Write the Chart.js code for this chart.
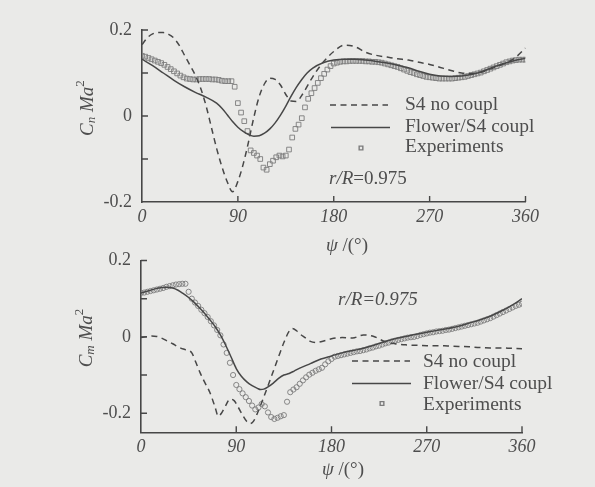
<!DOCTYPE html>
<html>
<head>
<meta charset="utf-8">
<script src="https://cdn.jsdelivr.net/npm/chart.js@4.4.1/dist/chart.umd.min.js"></script>
<style>
  html, body { margin: 0; padding: 0; background: #eaeae8; }
  #wrap { position: relative; width: 595px; height: 487px; overflow: hidden; }
  #wrap canvas { position: absolute; left: 0; top: 0; }
</style>
</head>
<body>
<div id="wrap">
  <canvas id="cn" width="595" height="487"></canvas>
  <canvas id="cm" width="595" height="487"></canvas>
</div>
<script>
// ---- azimuth axis ----
const X_TICKS = [0, 90, 180, 270, 360];
const X_MARKS = [90, 180, 270, 360];

// ---- normal force Cn*Ma^2, r/R = 0.975 ----
const CN_Y_TICKS = [-0.2, -0.1, 0, 0.1, 0.2];
const CN_Y_LABELED = [-0.2, 0, 0.2];

const CN_S4_PSI = [0,5,10,15,20,25,30,35,40,45,50,55,60,65,70,75,80,85,90,95,100,105,110,115,120,125,130,135,140,145,150,
                   160,170,180,190,200,210,220,230,240,250,260,270,280,290,300,310,320,330,340,350,360];
const CN_S4 = [0.166,0.182,0.191,0.194,0.194,0.190,0.181,0.164,0.141,0.118,
               0.095,0.065,0.025,-0.025,-0.075,-0.118,-0.153,-0.176,-0.152,-0.112,
               -0.060,-0.003,0.045,0.075,0.088,0.085,0.072,0.050,0.035,0.034,
               0.048,
               0.090,0.125,0.150,0.165,0.161,0.148,0.141,0.137,0.133,0.130,
               0.125,0.120,0.113,0.106,0.100,0.099,0.103,0.112,0.122,0.135,0.158];

const CN_CPL_PSI = [0,10,20,30,40,50,60,70,75,80,85,90,95,100,105,110,115,120,125,130,135,140,145,150,155,160,
                    170,180,190,200,210,220,230,240,250,260,270,280,290,300,310,320,330,340,350,360];
const CN_CPL = [0.132,0.117,0.100,0.083,0.068,0.055,0.044,0.030,
                0.018,0.003,-0.013,-0.026,-0.036,-0.043,-0.047,-0.046,-0.040,-0.030,
                -0.016,0.002,0.023,0.046,0.067,0.085,0.100,0.111,
                0.124,0.130,0.132,0.132,0.130,0.127,0.123,0.118,0.112,0.104,
                0.097,0.093,0.092,0.093,0.097,0.104,0.114,0.122,0.129,0.134];

// measured azimuths (every 3 deg), shared by both sections
const PSI_EXP = [0,3,6,9,12,15,18,21,24,27,30,33,36,39,42,45,48,51,54,57,
                 60,63,66,69,72,75,78,81,84,87,90,93,96,99,102,105,108,111,114,117,
                 120,123,126,129,132,135,138,141,144,147,150,153,156,159,162,165,168,171,174,177,
                 180,183,186,189,192,195,198,201,204,207,210,213,216,219,222,225,228,231,234,237,
                 240,243,246,249,252,255,258,261,264,267,270,273,276,279,282,285,288,291,294,297,
                 300,303,306,309,312,315,318,321,324,327,330,333,336,339,342,345,348,351,354,357,360];

const CN_EXP = [0.140,0.138,0.135,0.132,0.129,0.126,0.123,0.119,0.114,0.109,
                0.104,0.099,0.094,0.090,0.087,0.086,0.085,0.085,0.086,0.086,
                0.086,0.086,0.085,0.085,0.084,0.082,0.081,0.081,0.081,0.068,
                0.030,0.008,-0.012,-0.035,-0.080,-0.086,-0.092,-0.100,-0.120,-0.125,
                -0.112,-0.104,-0.096,-0.092,-0.094,-0.092,-0.078,-0.050,-0.030,-0.020,
                -0.005,0.020,0.040,0.053,0.065,0.077,0.088,0.098,0.108,0.116,
                0.122,0.124,0.126,0.127,0.127,0.128,0.128,0.128,0.128,0.128,
                0.127,0.127,0.126,0.126,0.125,0.124,0.122,0.120,0.118,0.116,
                0.114,0.111,0.108,0.105,0.102,0.100,0.097,0.095,0.093,0.091,
                0.090,0.089,0.088,0.087,0.087,0.087,0.087,0.087,0.088,0.089,
                0.090,0.091,0.093,0.095,0.097,0.099,0.101,0.104,0.107,0.110,
                0.113,0.116,0.119,0.122,0.125,0.127,0.129,0.130,0.131,0.131,0.131];

// ---- pitching moment Cm*Ma^2, r/R = 0.975 ----
const CM_Y_TICKS = [-0.2, -0.1, 0, 0.1, 0.2];
const CM_Y_LABELED = [-0.2, 0, 0.2];

const CM_S4_PSI = [0,5,10,15,20,25,30,35,40,45,48,52,56,60,65,70,73,76,80,84,88,92,96,100,103,106,110,
                   115,120,125,130,135,140,143,147,150,155,160,165,170,
                   180,190,200,210,220,230,240,250,260,270,280,290,300,310,320,330,340,350,360];
const CM_S4 = [-0.002,0.000,0.002,0.001,-0.004,-0.011,-0.018,-0.026,-0.032,-0.036,
               -0.042,-0.068,-0.095,-0.118,-0.145,-0.184,-0.208,-0.200,-0.180,-0.163,-0.167,-0.185,-0.205,-0.222,-0.227,-0.222,-0.200,
               -0.165,-0.128,-0.090,-0.052,-0.015,0.015,0.022,0.016,0.008,-0.002,-0.012,-0.015,-0.013,
               -0.005,-0.002,-0.003,0.005,0.001,-0.012,-0.018,-0.021,-0.022,-0.023,-0.023,-0.024,-0.025,-0.026,-0.028,-0.029,-0.029,-0.030,-0.031];

const CM_CPL_PSI = [0,5,10,15,20,25,30,35,40,45,50,55,60,65,70,75,80,85,90,95,100,105,110,113,116,
                    120,125,130,135,140,145,150,160,170,180,190,200,210,220,230,240,250,
                    260,270,280,290,300,310,320,330,340,350,360];
const CM_CPL = [0.115,0.119,0.123,0.127,0.129,0.130,0.128,0.122,0.113,0.103,
                0.091,0.077,0.062,0.045,0.027,0.005,-0.022,-0.052,-0.083,-0.104,
                -0.118,-0.128,-0.135,-0.138,-0.137,
                -0.131,-0.121,-0.109,-0.100,-0.096,-0.089,-0.082,
                -0.070,-0.058,-0.050,-0.042,-0.036,-0.030,-0.022,-0.013,-0.005,0.001,
                0.007,0.012,0.017,0.022,0.028,0.036,0.044,0.054,0.067,0.082,0.100];

const CM_EXP = [0.115,0.116,0.118,0.120,0.122,0.124,0.126,0.128,0.131,0.133,
                0.135,0.137,0.138,0.139,0.139,0.118,0.100,0.090,0.081,0.071,
                0.062,0.052,0.041,0.030,0.018,0.004,-0.020,-0.042,-0.068,-0.100,
                -0.126,-0.137,-0.148,-0.158,-0.168,-0.180,-0.190,-0.185,-0.176,-0.182,
                -0.198,-0.210,-0.215,-0.212,-0.208,-0.205,-0.170,-0.145,-0.138,-0.132,
                -0.123,-0.114,-0.106,-0.099,-0.094,-0.089,-0.085,-0.081,-0.072,-0.064,
                -0.058,-0.052,-0.050,-0.048,-0.046,-0.044,-0.042,-0.040,-0.038,-0.037,
                -0.035,-0.033,-0.030,-0.028,-0.025,-0.023,-0.020,-0.017,-0.015,-0.012,
                -0.010,-0.008,-0.006,-0.004,-0.002,-0.001,0.000,0.002,0.005,0.007,
                0.009,0.011,0.012,0.014,0.015,0.016,0.018,0.019,0.021,0.023,
                0.025,0.027,0.029,0.031,0.033,0.035,0.037,0.040,0.043,0.046,
                0.049,0.053,0.057,0.061,0.065,0.069,0.073,0.077,0.081,0.084,0.087];

// ---- styling ----
const INK = '#474747';
const TXT = '#4e4e4e';
const MARK = '#7c7c7c';
const SERIF = '"Liberation Serif", "Times New Roman", serif';

const X_TITLE = [{ t: '\u03c8', it: true, s: 19 }, { t: ' /(\u00b0)', s: 19 }];

function pts(xs, ys) { return xs.map((x, i) => ({ x: x, y: ys[i] })); }

function fontOf(p) { return (p.it ? 'italic ' : '') + p.s + 'px ' + SERIF; }

// draws a run of text pieces (sub/superscripts via dy), left or centre aligned
function drawRich(ctx, parts, x, y, align) {
  let w = 0;
  parts.forEach(p => { ctx.font = fontOf(p); w += ctx.measureText(p.t).width; });
  let cx = align === 'center' ? x - w / 2 : x;
  parts.forEach(p => {
    ctx.font = fontOf(p);
    ctx.fillText(p.t, cx, y + (p.dy || 0));
    cx += ctx.measureText(p.t).width;
  });
}

const decor = {
  id: 'decor',
  afterDraw(chart, args, o) {
    const { ctx, chartArea: a, scales: { x, y } } = chart;
    ctx.save();
    // tick marks pointing into the plot
    ctx.strokeStyle = INK;
    ctx.lineWidth = 1.4;
    ctx.beginPath();
    o.yMarks.forEach(v => { const py = y.getPixelForValue(v); ctx.moveTo(a.left, py); ctx.lineTo(a.left + 6, py); });
    X_MARKS.forEach(v => { const px = x.getPixelForValue(v); ctx.moveTo(px, a.bottom); ctx.lineTo(px, a.bottom - 6); });
    ctx.stroke();

    // axis titles and section note
    ctx.fillStyle = TXT;
    ctx.textBaseline = 'middle';
    ctx.textAlign = 'left';
    ctx.save();
    ctx.translate(o.yTitleAt[0], o.yTitleAt[1]);
    ctx.rotate(-Math.PI / 2);
    drawRich(ctx, o.yTitle, 0, 0, 'center');
    ctx.restore();
    drawRich(ctx, X_TITLE, o.xTitleAt[0], o.xTitleAt[1], 'center');
    drawRich(ctx, o.note, o.noteAt[0], o.noteAt[1], 'left');

    // legend
    const ds = chart.data.datasets;
    o.legend.forEach((e, i) => {
      const d = ds[i];
      if (e.line) {
        ctx.save();
        ctx.strokeStyle = d.borderColor;
        ctx.lineWidth = d.borderWidth;
        ctx.setLineDash(d.borderDash || []);
        ctx.beginPath();
        ctx.moveTo(e.line[0], e.y);
        ctx.lineTo(e.line[1], e.y);
        ctx.stroke();
        ctx.restore();
      } else {
        ctx.save();
        ctx.strokeStyle = d.borderColor;
        ctx.fillStyle = 'rgba(0,0,0,0)';
        Chart.helpers.drawPoint(ctx, { pointStyle: 'rect', radius: 2.6, borderWidth: 0.9 }, e.mark, e.y);
        ctx.restore();
      }
      ctx.fillStyle = TXT;
      ctx.font = '19.5px ' + SERIF;
      ctx.fillText(d.label, e.tx, e.ty);
    });
    ctx.restore();
  }
};

function makeChart(id, c) {
  return new Chart(document.getElementById(id), {
    type: 'scatter',
    data: {
      datasets: [
        { label: 'S4 no coupl', data: pts(c.s4Psi, c.s4), showLine: true, borderColor: INK, borderWidth: 1.5,
          borderDash: [6, 4.5], pointRadius: 0, cubicInterpolationMode: 'monotone' },
        { label: 'Flower/S4 coupl', data: pts(c.cplPsi, c.cpl), showLine: true, borderColor: INK, borderWidth: 1.5,
          pointRadius: 0, cubicInterpolationMode: 'monotone' },
        { label: 'Experiments', data: pts(PSI_EXP, c.exp), showLine: false, pointStyle: c.marker,
          pointRadius: c.markerR, borderColor: MARK, backgroundColor: 'rgba(0,0,0,0)', borderWidth: 0.9 }
      ]
    },
    options: {
      responsive: false,
      devicePixelRatio: 1,
      animation: false,
      events: [],
      layout: { padding: c.padding },
      plugins: { legend: { display: false }, tooltip: { enabled: false }, decor: c.decor },
      scales: {
        x: {
          type: 'linear', min: 0, max: 360,
          afterBuildTicks: s => { s.ticks = X_TICKS.map(v => ({ value: v })); },
          afterFit: s => { s.height = 40; },
          grid: { display: false, drawTicks: false },
          border: { display: true, color: INK, width: 1.6 },
          ticks: { padding: 4, color: TXT, font: { family: SERIF, size: 18, style: 'italic' }, maxRotation: 0,
                   callback: v => String(v) }
        },
        y: {
          type: 'linear', min: c.yMin, max: c.yMax,
          afterBuildTicks: s => { s.ticks = c.yTicks.map(v => ({ value: v })); },
          afterFit: s => { s.width = c.axisLeft; },
          grid: { display: false, drawTicks: false },
          border: { display: true, color: INK, width: 1.6 },
          ticks: { padding: 10, color: TXT, font: { family: SERIF, size: 18 },
                   callback: v => {
                     const r = Math.round(v * 10) / 10;
                     if (!c.yLabeled.some(l => Math.abs(l - r) < 1e-9)) return '';
                     return r === 0 ? '0' : r.toFixed(1);
                   } }
        }
      }
    },
    plugins: [decor]
  });
}

makeChart('cn', {
  s4Psi: CN_S4_PSI, s4: CN_S4, cplPsi: CN_CPL_PSI, cpl: CN_CPL, exp: CN_EXP,
  marker: 'rect', markerR: 3.3,
  yMin: -0.2, yMax: 0.2, yTicks: CN_Y_TICKS, yLabeled: CN_Y_LABELED,
  axisLeft: 142,
  padding: { left: 0, top: 30, right: 69.5, bottom: 245 },
  decor: {
    yMarks: [0.2, 0.1, 0, -0.1],
    yTitle: [{ t: 'C', it: true, s: 19 }, { t: 'n', it: true, s: 13, dy: 4 }, { t: ' Ma', it: true, s: 19 }, { t: '2', s: 13, dy: -7 }],
    yTitleAt: [88, 108],
    xTitleAt: [347, 246],
    note: [{ t: 'r/R', it: true, s: 19 }, { t: '=0.975', s: 19 }],
    noteAt: [329, 179],
    legend: [
      { line: [330, 388], y: 105, tx: 405, ty: 105 },
      { line: [331, 390], y: 127.5, tx: 405, ty: 127 },
      { mark: 361, y: 148, tx: 405, ty: 147 }
    ]
  }
});

makeChart('cm', {
  s4Psi: CM_S4_PSI, s4: CM_S4, cplPsi: CM_CPL_PSI, cpl: CM_CPL, exp: CM_EXP,
  marker: 'circle', markerR: 2.6,
  yMin: -0.25, yMax: 0.2, yTicks: CM_Y_TICKS, yLabeled: CM_Y_LABELED,
  axisLeft: 141,
  padding: { left: 0, top: 260.5, right: 73, bottom: 14.7 },
  decor: {
    yMarks: [0.2, 0.1, 0, -0.1, -0.2],
    yTitle: [{ t: 'C', it: true, s: 19 }, { t: 'm', it: true, s: 13, dy: 4 }, { t: ' Ma', it: true, s: 19 }, { t: '2', s: 13, dy: -7 }],
    yTitleAt: [87, 338],
    xTitleAt: [343, 470],
    note: [{ t: 'r/R=0.975', it: true, s: 19 }],
    noteAt: [338, 300],
    legend: [
      { line: [352, 410], y: 361, tx: 423, ty: 362 },
      { line: [352, 411], y: 383.5, tx: 423, ty: 384 },
      { mark: 382, y: 403.5, tx: 423, ty: 405 }
    ]
  }
});
</script>
</body>
</html>
